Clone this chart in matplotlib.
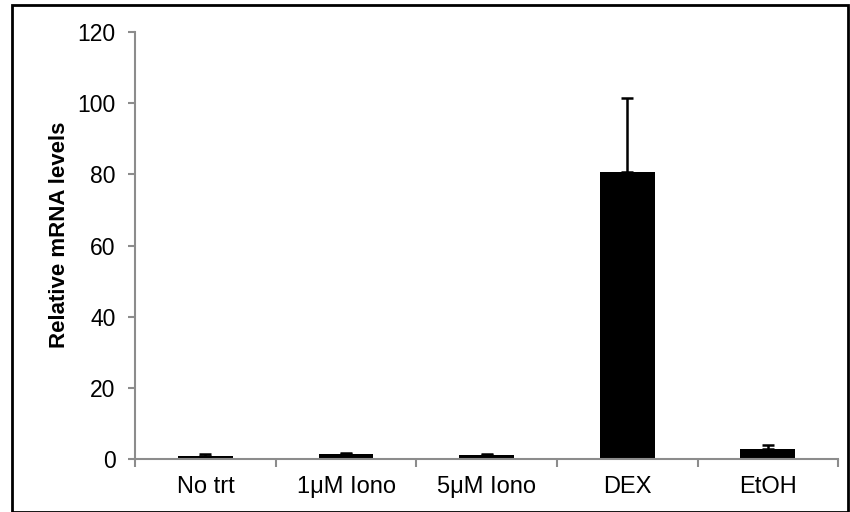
import numpy as np
import matplotlib.pyplot as plt
from matplotlib.patches import Rectangle

# data
labels = ['No trt', '1\u03bcM Iono', '5\u03bcM Iono', 'DEX', 'EtOH']
means = [0.9, 1.3, 1.1, 80.7, 2.8]
errs = [0.5, 0.45, 0.4, 20.8, 1.0]

plt.rcParams['font.family'] = ['Liberation Sans', 'DejaVu Sans']

fig = plt.figure(figsize=(8.5, 5.12), dpi=100)
ax = fig.add_axes([0.159, 0.1035, 0.827, 0.834])

x = np.arange(len(labels))
ax.bar(x, means, width=0.39, color='black', zorder=2)
ax.errorbar(x, means, yerr=[np.zeros(len(errs)), errs], fmt='none',
            ecolor='black', elinewidth=1.8, capsize=4, capthick=1.8, zorder=3)

# axes styling
grey = '#8c8c8c'
for pos in ['right', 'top']:
    ax.spines[pos].set_visible(False)
for pos in ['left', 'bottom']:
    ax.spines[pos].set_color(grey)
    ax.spines[pos].set_linewidth(1.5)

ax.set_xlim(-0.5, len(labels) - 0.5)
ax.set_ylim(0, 120)
ax.set_yticks(range(0, 121, 20))
ax.set_xticks(x)
ax.set_xticklabels(labels, fontsize=17)
ax.tick_params(axis='x', length=0, pad=12)
ax.set_xticks(np.arange(-0.5, len(labels), 1), minor=True)
ax.tick_params(axis='x', which='minor', length=6, width=1.5, color=grey, direction='out')
ax.tick_params(axis='y', length=5, width=1.5, color=grey, direction='out', labelsize=16.5, pad=9)

ax.set_ylabel('Relative mRNA levels', fontweight='bold', fontsize=16)
ax.yaxis.set_label_coords(-0.0925, 0.525)

# border around figure
fig.patches.append(Rectangle((0.014, 0.0), 0.984, 0.99, transform=fig.transFigure,
                             fill=False, edgecolor='black', linewidth=2))

plt.savefig('out.png', dpi=100)
